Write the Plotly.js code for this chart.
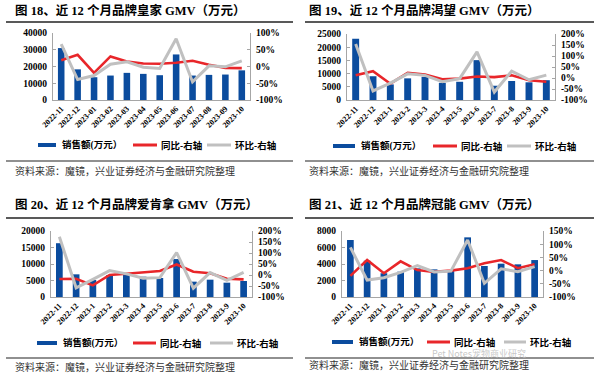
<!DOCTYPE html>
<html><head><meta charset="utf-8">
<script src="https://cdn.plot.ly/plotly-3.0.1.min.js"></script>
<style>html,body{margin:0;padding:0;background:#fff}#chart{width:600px;height:377px}</style>
</head><body><div id="chart"></div>
<script>
// ---------- DATA ----------
const monthsA = ['2022-11','2022-12','2023-01','2023-02','2023-03','2023-04','2023-05','2023-06','2023-07','2023-08','2023-09','2023-10'];
const monthsB = ['2022-11','2022-12','2023-1','2023-2','2023-3','2023-4','2023-5','2023-6','2023-7','2023-8','2023-9','2023-10'];

// 皇家
const royalGmv = [31000,18300,13600,14600,16200,15600,14800,27200,14600,15000,15200,17700];
const royalYoy = [19,35,-19,30,15,9,8,11,17,5,-4,-5];
const royalMom = [67,-39,-27,7,14,-2,-6,83,-46,2,-1,17];
// 渴望
const orijenGmv = [23200,9000,5900,8200,8800,6500,6900,15100,5400,7200,6700,7500];
const orijenYoy = [12,31,-26,24,16,-6,-3,7,4,12,-10,-17];
const orijenMom = [155,-59,-23,19,12,-17,-3,119,-64,31,-8,13];
// 爱肯拿
const acanaGmv = [16300,6870,5150,6670,6870,6160,5760,11500,4650,5250,4340,4850];
const acanaYoy = [-18,-17,-47,0,6,12,18,48,15,8,-17,-20];
const acanaMom = [174,-58,-20,20,5,-15,-12,102,-60,11,-24,12];
// 冠能
const proplanGmv = [6910,4400,2880,3070,3470,3350,3270,7230,3760,4040,3960,4480];
const proplanYoy = [-20,40,-10,35,2,-5,0,9,28,40,9,24];
const proplanMom = [88,-36,-27,-7,19,-5,-2,116,-48,7,-4,15];

// tick labels
const royalLeftVals = [0,10000,20000,30000,40000];
const royalLeftText = ['0','10000','20000','30000','40000'];
const royalRightVals = [-100,-50,0,50,100];
const royalRightText = ['-100%','-50%','0%','50%','100%'];
const orijenLeftVals = [0,5000,10000,15000,20000,25000];
const orijenLeftText = ['0','5000','10000','15000','20000','25000'];
const orijenRightVals = [-100,-50,0,50,100,150,200];
const orijenRightText = ['-100%','-50%','0%','50%','100%','150%','200%'];
const acanaLeftVals = [0,5000,10000,15000,20000];
const acanaLeftText = ['0','5000','10000','15000','20000'];
const acanaRightVals = [-100,-50,0,50,100,150,200];
const acanaRightText = ['-100%','-50%','0%','50%','100%','150%','200%'];
const proplanLeftVals = [0,2000,4000,6000,8000];
const proplanLeftText = ['0','2000','4000','6000','8000'];
const proplanRightVals = [-100,-50,0,50,100,150];
const proplanRightText = ['-100%','-50%','0%','50%','100%','150%'];

const titles = ['图 18、近 12 个月品牌皇家 GMV（万元）','图 19、近 12 个月品牌渴望 GMV（万元）','图 20、近 12 个月品牌爱肯拿 GMV（万元）','图 21、近 12 个月品牌冠能 GMV（万元）'];
const seriesNames = ['销售额(万元）','同比-右轴','环比-右轴'];
const sourceText = '资料来源：魔镜，兴业证券经济与金融研究院整理';
const watermarkText = 'Pet Notes宠物商业研究';

// ---------- LAYOUT HELPERS ----------
const W = 600, H = 377;
const px = v => v / W;
const py = v => 1 - v / H;
const BLUE = '#0b4c9e', RED = '#e8262a', GREY = '#c0c0c0', AXIS = '#a6a6a6';
const serif = 'Liberation Serif, Times New Roman, Noto Sans CJK SC, serif';
const cjk = 'Liberation Serif, Noto Sans CJK SC, sans-serif';

const panels = [
  {months: monthsA, gmv: royalGmv, yoy: royalYoy, mom: royalMom, lmax: 40000, rmin: -100, rmax: 100,
   lv: royalLeftVals, lt: royalLeftText, rv: royalRightVals, rt: royalRightText,
   box: [53, 250, 33, 100], title: [13, 10], topLine: [6, 293, 22], botLine: [6, 293, 161], src: [13, 171],
   leg: {y: 145, blue: [38, 56], t1: 60, red: [133, 157], t2: 159, grey: [207, 231], t3: 233}},
  {months: monthsB, gmv: orijenGmv, yoy: orijenYoy, mom: orijenMom, lmax: 25000, rmin: -100, rmax: 200,
   lv: orijenLeftVals, lt: orijenLeftText, rv: orijenRightVals, rt: orijenRightText,
   box: [347, 555, 34, 100], title: [307, 10], topLine: [305, 594, 22], botLine: [305, 594, 161], src: [307, 171],
   leg: {y: 146, blue: [333, 355], t1: 359, red: [433, 457], t2: 459, grey: [507, 531], t3: 533}},
  {months: monthsB, gmv: acanaGmv, yoy: acanaYoy, mom: acanaMom, lmax: 20000, rmin: -100, rmax: 200,
   lv: acanaLeftVals, lt: acanaLeftText, rv: acanaRightVals, rt: acanaRightText,
   box: [51, 252, 231, 297], title: [13, 205], topLine: [6, 293, 218], botLine: [6, 293, 358], src: [13, 367],
   leg: {y: 343, blue: [37, 57], t1: 61, red: [133, 156], t2: 158, grey: [210, 233], t3: 235}},
  {months: monthsB, gmv: proplanGmv, yoy: proplanYoy, mom: proplanMom, lmax: 8000, rmin: -100, rmax: 150,
   lv: proplanLeftVals, lt: proplanLeftText, rv: proplanRightVals, rt: proplanRightText,
   box: [342, 543, 231, 297], title: [307, 205], topLine: [305, 594, 218], botLine: [305, 594, 358], src: [307, 365],
   leg: {y: 342, blue: [332, 353], t1: 357, red: [427, 450], t2: 452, grey: [504, 526], t3: 528}}
];

const data = [];
const layout = {
  width: W, height: H, margin: {l: 0, r: 0, t: 0, b: 0, pad: 0},
  paper_bgcolor: '#fff', plot_bgcolor: 'rgba(0,0,0,0)',
  showlegend: false, barmode: 'group', bargap: 0.6,
  shapes: [], annotations: []
};

const tickFont = {family: serif, size: 9.5, color: '#000', weight: 'bold'};

panels.forEach((p, i) => {
  const n = i + 1;
  const xId = n === 1 ? 'x' : 'x' + n;
  const xKey = n === 1 ? 'xaxis' : 'xaxis' + n;
  const lN = 2 * n - 1, rN = 2 * n;
  const yLId = lN === 1 ? 'y' : 'y' + lN;
  const yLKey = lN === 1 ? 'yaxis' : 'yaxis' + lN;
  const yRId = 'y' + rN, yRKey = 'yaxis' + rN;
  const [L, R, T, B] = p.box;

  layout[xKey] = {
    domain: [px(L), px(R)], anchor: yLId, type: 'category',
    tickangle: -45, tickfont: {family: serif, size: 8, color: '#000', weight: 'bold'},
    showline: true, linecolor: AXIS, linewidth: 1, ticks: '', showgrid: false, zeroline: false,
    range: [-0.5, 11.5], fixedrange: true
  };
  layout[yLKey] = {
    domain: [py(B), py(T)], anchor: xId, range: [0, p.lmax],
    tickmode: 'array', tickvals: p.lv, ticktext: p.lt, tickfont: tickFont,
    showline: true, linecolor: AXIS, linewidth: 1, ticks: 'inside', ticklen: 3, tickcolor: AXIS,
    showgrid: false, zeroline: false, ticklabelstandoff: 3, fixedrange: true
  };
  layout[yRKey] = {
    overlaying: yLId, side: 'right', anchor: xId, range: [p.rmin, p.rmax],
    tickmode: 'array', tickvals: p.rv, ticktext: p.rt, tickfont: tickFont,
    showline: true, linecolor: AXIS, linewidth: 1, ticks: 'inside', ticklen: 3, tickcolor: AXIS,
    showgrid: false, zeroline: false, ticklabelstandoff: 3, fixedrange: true
  };

  data.push({type: 'bar', name: seriesNames[0], x: p.months, y: p.gmv, xaxis: xId, yaxis: yLId,
    marker: {color: BLUE, line: {width: 0}}, hoverinfo: 'skip'});
  data.push({type: 'scatter', mode: 'lines', name: seriesNames[1], x: p.months, y: p.yoy, xaxis: xId, yaxis: yRId,
    line: {color: RED, width: 2.6}, hoverinfo: 'skip'});
  data.push({type: 'scatter', mode: 'lines', name: seriesNames[2], x: p.months, y: p.mom, xaxis: xId, yaxis: yRId,
    line: {color: GREY, width: 3}, hoverinfo: 'skip'});

  // title
  layout.annotations.push({xref: 'paper', yref: 'paper', x: px(p.title[0]), y: py(p.title[1]),
    xanchor: 'left', yanchor: 'middle', showarrow: false, text: '<b>' + titles[i] + '</b>',
    font: {family: cjk, size: 12.5, color: '#000'}});
  // separator lines
  layout.shapes.push({type: 'line', xref: 'paper', yref: 'paper', x0: px(p.topLine[0]), x1: px(p.topLine[1]),
    y0: py(p.topLine[2]), y1: py(p.topLine[2]), line: {color: '#222', width: 1.5}});
  layout.shapes.push({type: 'line', xref: 'paper', yref: 'paper', x0: px(p.botLine[0]), x1: px(p.botLine[1]),
    y0: py(p.botLine[2]), y1: py(p.botLine[2]), line: {color: '#222', width: 1.2}});
  // source
  layout.annotations.push({xref: 'paper', yref: 'paper', x: px(p.src[0]), y: py(p.src[1]),
    xanchor: 'left', yanchor: 'middle', showarrow: false, text: sourceText,
    font: {family: cjk, size: 10, color: '#333'}});
  // legend
  const g = p.leg;
  layout.shapes.push({type: 'rect', xref: 'paper', yref: 'paper', x0: px(g.blue[0]), x1: px(g.blue[1]),
    y0: py(g.y + 2), y1: py(g.y - 2), fillcolor: BLUE, line: {width: 0}});
  layout.shapes.push({type: 'line', xref: 'paper', yref: 'paper', x0: px(g.red[0]), x1: px(g.red[1]),
    y0: py(g.y), y1: py(g.y), line: {color: RED, width: 3}});
  layout.shapes.push({type: 'line', xref: 'paper', yref: 'paper', x0: px(g.grey[0]), x1: px(g.grey[1]),
    y0: py(g.y), y1: py(g.y), line: {color: GREY, width: 3}});
  [[g.t1, seriesNames[0]], [g.t2, seriesNames[1]], [g.t3, seriesNames[2]]].forEach(([tx, tt]) => {
    layout.annotations.push({xref: 'paper', yref: 'paper', x: px(tx), y: py(g.y),
      xanchor: 'left', yanchor: 'middle', showarrow: false, text: '<b>' + tt + '</b>',
      font: {family: cjk, size: 9.5, color: '#000'}});
  });
});

// watermark (sits just above the bottom rule of panel 21)
layout.annotations.push({xref: 'paper', yref: 'paper', x: px(430), y: py(353), xanchor: 'left', yanchor: 'middle',
  showarrow: false, text: watermarkText, font: {family: 'Noto Sans CJK SC, sans-serif', size: 9, color: 'rgba(185,185,185,0.8)'}});

Plotly.newPlot('chart', data, layout, {staticPlot: true, displayModeBar: false});
</script>
</body></html>
